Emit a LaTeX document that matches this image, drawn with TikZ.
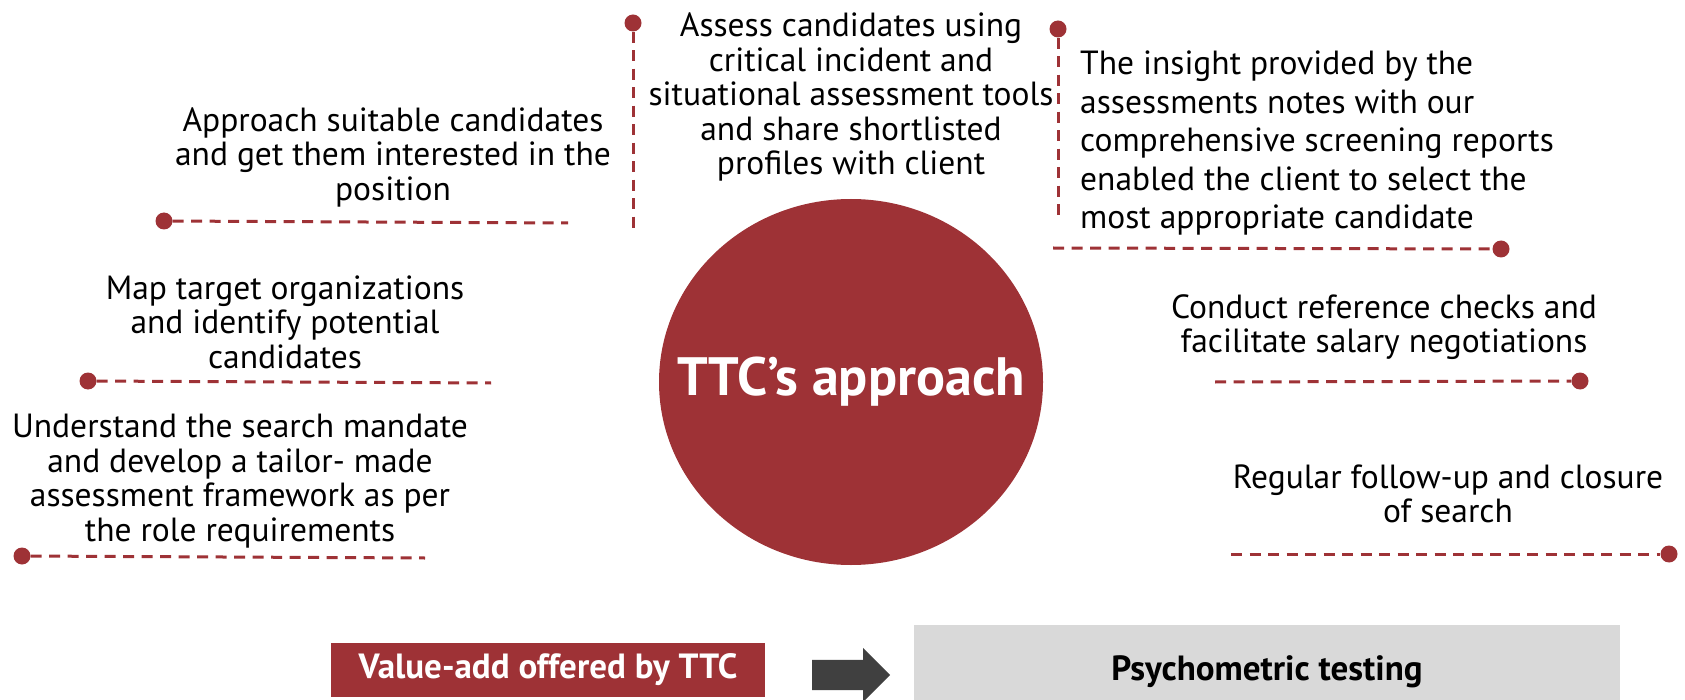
\documentclass[tikz,border=0pt]{standalone}
\usepackage{fontspec}
\setmainfont{PT Sans}
\usetikzlibrary{shapes.geometric,shapes.arrows}
\definecolor{ttcred}{RGB}{158,50,54}
\definecolor{arrowgray}{RGB}{64,64,64}
\definecolor{boxgray}{RGB}{217,217,217}
\begin{document}
\begin{tikzpicture}[x=1pt,y=-1pt,
  txt/.style={font=\fontsize{33.5}{34.5}\selectfont, align=center, inner sep=0pt, text=black},
  dotnode/.style={circle, fill=ttcred, minimum size=17pt, inner sep=0pt},
  dline/.style={draw=ttcred, line width=3pt, dash pattern=on 11pt off 7.5pt},
]
\useasboundingbox (0,0) rectangle (1685,700);

% central disc
\node[ellipse, fill=ttcred, minimum width=384pt, minimum height=366pt, inner sep=0pt] (hub) at (851,382) {};
\node[text=white, inner sep=0pt, font=\fontsize{54}{60}\selectfont\bfseries] (hubtext) at (hub.center) {TTC’s approach};

% texts
\node[txt] (assess) at (851,97) {Assess candidates using\\critical incident and\\situational assessment tools\\and share shortlisted\\profiles with client};
\node[txt] (approach) at (393,157) {Approach suitable candidates\\and get them interested in the\\position};
\node[txt] (map) at (285,322) {Map target organizations\\and identify potential\\candidates};
\node[txt] (understand) at (240,481) {Understand the search mandate\\and develop a tailor- made\\assessment framework as per\\the role requirements};
\node[txt, align=left, anchor=west, font=\fontsize{33.5}{38.5}\selectfont] (insight) at (1080,143) {The insight provided by the\\assessments notes with our\\comprehensive screening reports\\enabled the client to select the\\most appropriate candidate};
\node[txt] (conduct) at (1384,327) {Conduct reference checks and\\facilitate salary negotiations};
\node[txt] (regular) at (1448,494) {Regular follow-up and closure\\of search};

% dots and dashed leaders
\node[dotnode] (d1) at (633,23) {};
\coordinate (e1) at (633,231);
\draw[dline] (d1) -- (e1);

\node[dotnode] (d2) at (164,221) {};
\coordinate (e2) at (568,223);
\draw[dline] (d2) -- (e2);

\node[dotnode] (d3) at (88,381) {};
\coordinate (e3) at (491,383);
\draw[dline] (d3) -- (e3);

\node[dotnode] (d4) at (22,556) {};
\coordinate (e4) at (425,558);
\draw[dline] (d4) -- (e4);

\node[dotnode] (d5) at (1058,29) {};
\coordinate (e5) at (1058,218);
\draw[dline] (d5) -- (e5);

\node[dotnode] (d6) at (1501,249) {};
\coordinate (e6) at (1053,248);
\draw[dline] (e6) -- (d6);

\node[dotnode] (d7) at (1580,381) {};
\coordinate (e7) at (1215,382);
\draw[dline] (e7) -- (d7);

\node[dotnode] (d8) at (1669,554) {};
\coordinate (e8) at (1231,554);
\draw[dline] (e8) -- (d8);

% bottom band
\node[fill=ttcred, minimum width=434pt, minimum height=54pt, inner sep=0pt,
      text=white, font=\fontsize{35}{40}\selectfont\bfseries] (value) at (548,670) {Value-add offered by TTC};
\node[single arrow, fill=arrowgray, minimum height=78pt, inner xsep=0pt, inner ysep=15pt,
      single arrow head extend=12pt, anchor=tail] (arr) at (812,675) {};
\node[fill=boxgray, minimum width=706pt, minimum height=94pt, inner sep=0pt,
      font=\fontsize{35}{40}\selectfont\bfseries] (psy) at (1267,672) {Psychometric testing};
\end{tikzpicture}
\end{document}
